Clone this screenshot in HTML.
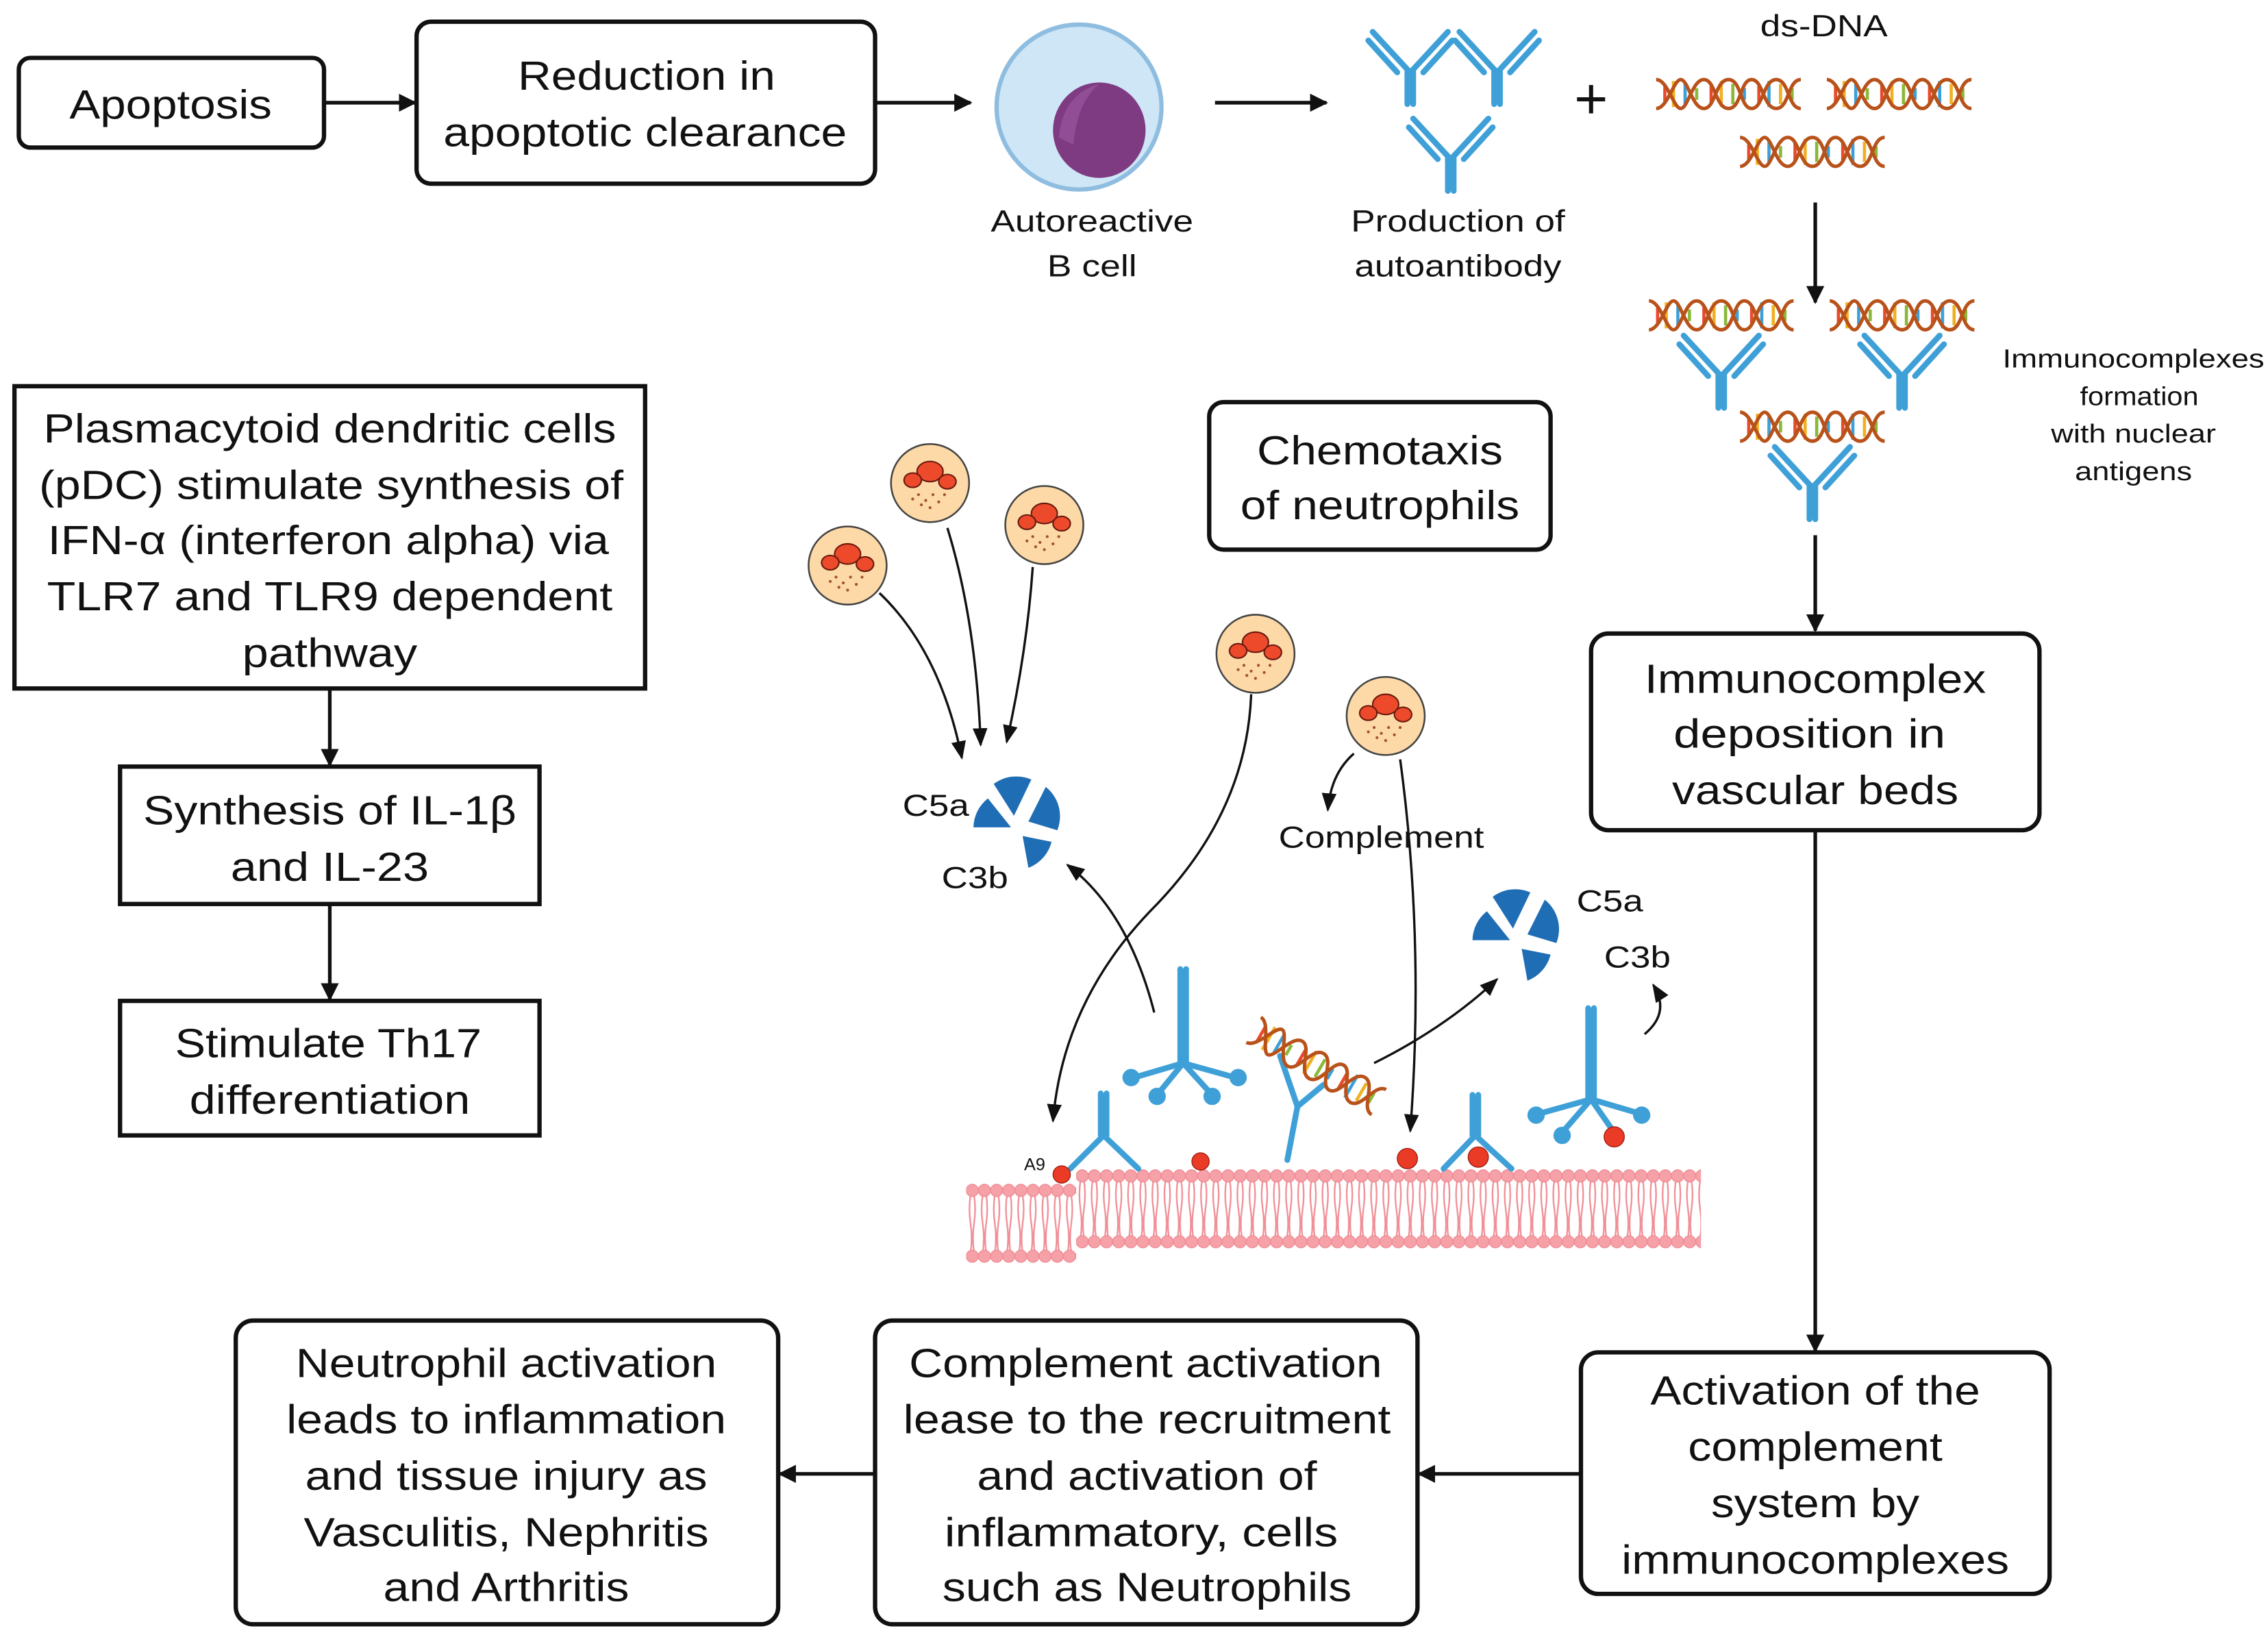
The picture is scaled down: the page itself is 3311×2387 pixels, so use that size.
<!DOCTYPE html>
<html><head><meta charset="utf-8"><style>
html,body{margin:0;padding:0;background:#fff;}
svg{display:block;}
svg text{font-family:"Liberation Sans",Arial,Helvetica,sans-serif;fill:#111;}
</style></head><body>
<svg width="3311" height="2387" viewBox="0 0 1568 1130.4" xmlns="http://www.w3.org/2000/svg" font-family="Liberation Sans, Arial, Helvetica, sans-serif">
<defs>
<marker id="ah" viewBox="0 0 10 10" refX="9" refY="5" markerWidth="5" markerHeight="5" orient="auto"><path d="M0,0L10,5L0,10z" fill="#111"/></marker>
<marker id="as" viewBox="0 0 10 10" refX="9" refY="5" markerWidth="8" markerHeight="8" orient="auto"><path d="M0,1L10,5L0,9z" fill="#111"/></marker>
<pattern id="lip" x="744" y="808" width="8.4" height="56" patternUnits="userSpaceOnUse">
<path d="M3,8 q-1.5,10 0,20 q1.5,10 0,20 M5.4,8 q1.5,10 0,20 q-1.5,10 0,20" stroke="#f08e96" stroke-width="1.1" fill="none"/>
<circle cx="4.2" cy="5" r="4.2" fill="#f6a0a8" stroke="#ee8890" stroke-width="0.6"/>
<circle cx="4.2" cy="50.5" r="4.2" fill="#f6a0a8" stroke="#ee8890" stroke-width="0.6"/>
</pattern>
<pattern id="lip2" x="668" y="818" width="8.4" height="56" patternUnits="userSpaceOnUse">
<path d="M3,8 q-1.5,10 0,20 q1.5,10 0,20 M5.4,8 q1.5,10 0,20 q-1.5,10 0,20" stroke="#f08e96" stroke-width="1.1" fill="none"/>
<circle cx="4.2" cy="5" r="4.2" fill="#f6a0a8" stroke="#ee8890" stroke-width="0.6"/>
<circle cx="4.2" cy="50.5" r="4.2" fill="#f6a0a8" stroke="#ee8890" stroke-width="0.6"/>
</pattern>
<symbol id="dna" viewBox="0 0 100 24" overflow="visible">
<g stroke-width="2.2">
<line x1="6" y1="6" x2="6" y2="18" stroke="#e84a2c"/><line x1="12" y1="3" x2="12" y2="21" stroke="#f0b020"/>
<line x1="20" y1="5" x2="20" y2="19" stroke="#3ba0d8"/><line x1="28" y1="8" x2="28" y2="16" stroke="#8ab838"/>
<line x1="38" y1="6" x2="38" y2="18" stroke="#e84a2c"/><line x1="45" y1="3" x2="45" y2="21" stroke="#f0b020"/>
<line x1="53" y1="5" x2="53" y2="19" stroke="#8ab838"/><line x1="61" y1="8" x2="61" y2="16" stroke="#3ba0d8"/>
<line x1="71" y1="6" x2="71" y2="18" stroke="#e84a2c"/><line x1="78" y1="3" x2="78" y2="21" stroke="#3ba0d8"/>
<line x1="86" y1="5" x2="86" y2="19" stroke="#f0b020"/><line x1="94" y1="8" x2="94" y2="16" stroke="#8ab838"/>
</g>
<path d="M0,2 C8,2 12,22 17,22 S25,2 33,2 S41,22 50,22 S58,2 66,2 S74,22 83,22 S91,2 100,2" fill="none" stroke="#b8521a" stroke-width="2.4"/>
<path d="M0,22 C8,22 12,2 17,2 S25,22 33,22 S41,2 50,2 S58,22 66,22 S74,2 83,2 S91,22 100,22" fill="none" stroke="#b8521a" stroke-width="2.4"/>
</symbol>
<symbol id="ab" viewBox="-30 -5 60 60" overflow="visible">
<path d="M-2,52 L-2,28 L-26,2 M2,52 L2,28 L26,2 M-9,30 L-29,8 M9,30 L29,8" stroke="#3fa0d8" stroke-width="4" fill="none" stroke-linecap="round"/>
</symbol>
<symbol id="neu" viewBox="-30 -30 60 60" overflow="visible">
<circle r="27" fill="#fcd9a6" stroke="#444" stroke-width="1.2"/>
<ellipse cx="0" cy="-8" rx="9" ry="7" fill="#ec4a2a" stroke="#6a1a10" stroke-width="1"/>
<ellipse cx="-12" cy="-2" rx="6" ry="5" fill="#ec4a2a" stroke="#6a1a10" stroke-width="1"/>
<ellipse cx="12" cy="-1" rx="6" ry="5" fill="#ec4a2a" stroke="#6a1a10" stroke-width="1"/>
<g fill="#a05030"><circle cx="-8" cy="8" r="1"/><circle cx="-3" cy="12" r="1"/><circle cx="2" cy="8" r="1"/><circle cx="6" cy="13" r="1"/><circle cx="-6" cy="15" r="1"/><circle cx="10" cy="8" r="1"/><circle cx="0" cy="17" r="1"/><circle cx="-12" cy="11" r="1"/></g>
</symbol>
<symbol id="pie" viewBox="-40 -40 80 80" overflow="visible">
<g fill="#1f6eb5">
<path d="M-4,-6 L-18,-28 A26,26 0 0 1 8,-31 Z"/>
<path d="M6,-2 L18,-26 A26,26 0 0 1 26,4 Z"/>
<path d="M-6,2 L-32,2 A26,26 0 0 1 -22,-18 Z"/>
<path d="M2,8 L22,12 A26,26 0 0 1 6,30 Z"/>
</g>
</symbol>
</defs>

<g fill="none" stroke="#111" stroke-width="3">
<rect x="13" y="40" width="211" height="62" rx="8"/>
<rect x="288" y="15" width="317" height="112" rx="10"/>
<rect x="10" y="267" width="436" height="209"/>
<rect x="83" y="530" width="290" height="95"/>
<rect x="83" y="692" width="290" height="93"/>
<rect x="836" y="278" width="236" height="102" rx="10"/>
<rect x="1100" y="438" width="310" height="136" rx="12"/>
<rect x="1093" y="935" width="324" height="167" rx="12"/>
<rect x="605" y="913" width="375" height="210" rx="12"/>
<rect x="163" y="913" width="375" height="210" rx="12"/>
</g>

<g stroke="#111" stroke-width="2.5" fill="none" marker-end="url(#ah)">
<line x1="224" y1="71" x2="287" y2="71"/>
<line x1="605" y1="71" x2="671" y2="71"/>
<line x1="840" y1="71" x2="917" y2="71"/>
<line x1="1255" y1="140" x2="1255" y2="209"/>
<line x1="1255" y1="370" x2="1255" y2="436"/>
<line x1="1255" y1="574" x2="1255" y2="934"/>
<line x1="1093" y1="1019" x2="981" y2="1019"/>
<line x1="605" y1="1019" x2="539" y2="1019"/>
<line x1="228" y1="476" x2="228" y2="529"/>
<line x1="228" y1="625" x2="228" y2="691"/>
</g>

<g font-size="28" text-anchor="middle" lengthAdjust="spacingAndGlyphs">
<text x="118" y="82" textLength="140" lengthAdjust="spacingAndGlyphs">Apoptosis</text>
<text x="447" y="62" textLength="178" lengthAdjust="spacingAndGlyphs">Reduction in</text>
<text x="446" y="101" textLength="279" lengthAdjust="spacingAndGlyphs">apoptotic clearance</text>
<text x="228" y="306" textLength="396" lengthAdjust="spacingAndGlyphs">Plasmacytoid dendritic cells</text>
<text x="229" y="345" textLength="404" lengthAdjust="spacingAndGlyphs">(pDC) stimulate synthesis of</text>
<text x="227" y="383" textLength="388" lengthAdjust="spacingAndGlyphs">IFN-α (interferon alpha) via</text>
<text x="228" y="422" textLength="391" lengthAdjust="spacingAndGlyphs">TLR7 and TLR9 dependent</text>
<text x="228" y="461" textLength="121" lengthAdjust="spacingAndGlyphs">pathway</text>
<text x="228" y="570" textLength="258" lengthAdjust="spacingAndGlyphs">Synthesis of IL-1β</text>
<text x="228" y="609" textLength="137" lengthAdjust="spacingAndGlyphs">and IL-23</text>
<text x="227" y="731" textLength="212" lengthAdjust="spacingAndGlyphs">Stimulate Th17</text>
<text x="228" y="770" textLength="194" lengthAdjust="spacingAndGlyphs">differentiation</text>
<text x="954" y="321" textLength="170" lengthAdjust="spacingAndGlyphs">Chemotaxis</text>
<text x="954" y="359" textLength="193" lengthAdjust="spacingAndGlyphs">of neutrophils</text>
<text x="1255" y="479" textLength="236" lengthAdjust="spacingAndGlyphs">Immunocomplex</text>
<text x="1251" y="517" textLength="188" lengthAdjust="spacingAndGlyphs">deposition in</text>
<text x="1255" y="556" textLength="198" lengthAdjust="spacingAndGlyphs">vascular beds</text>
<text x="1255" y="971" textLength="228" lengthAdjust="spacingAndGlyphs">Activation of the</text>
<text x="1255" y="1010" textLength="176" lengthAdjust="spacingAndGlyphs">complement</text>
<text x="1255" y="1049" textLength="144" lengthAdjust="spacingAndGlyphs">system by</text>
<text x="1255" y="1088" textLength="268" lengthAdjust="spacingAndGlyphs">immunocomplexes</text>
<text x="792" y="952" textLength="327" lengthAdjust="spacingAndGlyphs">Complement activation</text>
<text x="793" y="991" textLength="337" lengthAdjust="spacingAndGlyphs">lease to the recruitment</text>
<text x="793" y="1030" textLength="235" lengthAdjust="spacingAndGlyphs">and activation of</text>
<text x="789" y="1069" textLength="272" lengthAdjust="spacingAndGlyphs">inflammatory, cells</text>
<text x="793" y="1107" textLength="283" lengthAdjust="spacingAndGlyphs">such as Neutrophils</text>
<text x="350" y="952" textLength="291" lengthAdjust="spacingAndGlyphs">Neutrophil activation</text>
<text x="350" y="991" textLength="304" lengthAdjust="spacingAndGlyphs">leads to inflammation</text>
<text x="350" y="1030" textLength="278" lengthAdjust="spacingAndGlyphs">and tissue injury as</text>
<text x="350" y="1069" textLength="280" lengthAdjust="spacingAndGlyphs">Vasculitis, Nephritis</text>
<text x="350" y="1107" textLength="170" lengthAdjust="spacingAndGlyphs">and Arthritis</text>
</g>
<g font-size="21" text-anchor="middle">
<text x="755" y="160" textLength="140" lengthAdjust="spacingAndGlyphs">Autoreactive</text>
<text x="755" y="191" textLength="62" lengthAdjust="spacingAndGlyphs">B cell</text>
<text x="1008" y="160" textLength="148" lengthAdjust="spacingAndGlyphs">Production of</text>
<text x="1008" y="191" textLength="143" lengthAdjust="spacingAndGlyphs">autoantibody</text>
<text x="1261" y="25" textLength="88" lengthAdjust="spacingAndGlyphs">ds-DNA</text>
<text x="955" y="586" textLength="142" lengthAdjust="spacingAndGlyphs">Complement</text>
<text x="647" y="564" textLength="46" lengthAdjust="spacingAndGlyphs">C5a</text>
<text x="674" y="614" textLength="46" lengthAdjust="spacingAndGlyphs">C3b</text>
<text x="1113" y="630" textLength="46" lengthAdjust="spacingAndGlyphs">C5a</text>
<text x="1132" y="669" textLength="46" lengthAdjust="spacingAndGlyphs">C3b</text>
</g>
<text x="1100" y="82" font-size="40" text-anchor="middle">+</text>
<g font-size="18" text-anchor="middle">
<text x="1475" y="254" textLength="181" lengthAdjust="spacingAndGlyphs">Immunocomplexes</text>
<text x="1479" y="280" textLength="82" lengthAdjust="spacingAndGlyphs">formation</text>
<text x="1475" y="306" textLength="114" lengthAdjust="spacingAndGlyphs">with nuclear</text>
<text x="1475" y="332" textLength="81" lengthAdjust="spacingAndGlyphs">antigens</text>
</g>
<text x="708" y="809" font-size="12">A9</text>

<!-- B cell -->
<circle cx="746" cy="74" r="57" fill="#cfe6f7" stroke="#8fbde0" stroke-width="3"/>
<ellipse cx="760" cy="90" rx="32" ry="33" fill="#7e3b82"/>
<path d="M732,95 Q735,65 760,58 Q745,70 742,100 Z" fill="#96529a" opacity="0.8"/>

<!-- antibodies & DNA top -->
<use href="#ab" x="945" y="15" width="60" height="60"/>
<use href="#ab" x="1005" y="15" width="60" height="60"/>
<use href="#ab" x="973" y="75" width="60" height="60"/>
<use href="#dna" x="1145" y="53" width="100" height="24"/>
<use href="#dna" x="1263" y="53" width="100" height="24"/>
<use href="#dna" x="1203" y="93" width="100" height="24"/>

<use href="#dna" x="1140" y="206" width="100" height="24"/>
<use href="#dna" x="1265" y="206" width="100" height="24"/>
<use href="#dna" x="1203" y="283" width="100" height="24"/>
<use href="#ab" x="1160" y="225" width="60" height="60"/>
<use href="#ab" x="1285" y="225" width="60" height="60"/>
<use href="#ab" x="1223" y="302" width="60" height="60"/>

<!-- neutrophils -->
<use href="#neu" x="613" y="304" width="60" height="60"/>
<use href="#neu" x="556" y="361" width="60" height="60"/>
<use href="#neu" x="692" y="333" width="60" height="60"/>
<use href="#neu" x="838" y="422" width="60" height="60"/>
<use href="#neu" x="928" y="465" width="60" height="60"/>

<use href="#pie" x="665" y="530" width="80" height="80"/>
<use href="#pie" x="1010" y="608" width="80" height="80"/>

<!-- curved arrows -->
<g stroke="#111" stroke-width="1.6" fill="none" marker-end="url(#as)">
<path d="M608,410 Q650,450 665,524"/>
<path d="M655,365 Q675,430 678,515"/>
<path d="M714,392 Q710,450 696,513"/>
<path d="M865,480 Q862,560 800,625 Q735,690 728,775"/>
<path d="M798,700 Q780,630 738,598"/>
<path d="M936,521 Q920,535 918,560"/>
<path d="M968,525 Q985,650 975,782"/>
<path d="M950,735 Q1000,710 1035,677"/>
<path d="M1137,715 Q1155,700 1143,681"/>
</g>

<!-- membrane -->
<rect x="668" y="818" width="76" height="56" fill="url(#lip2)"/>
<rect x="744" y="808" width="432" height="56" fill="url(#lip)"/>

<!-- membrane antibodies -->
<g stroke="#3fa0d8" stroke-width="4" fill="none" stroke-linecap="round">
<path d="M816,670 V735 M820,670 V735 M818,735 L784,745 M818,735 L800,757 M818,735 L838,757 M818,735 L854,745"/>
<path d="M1098,697 V760 M1102,697 V760 M1100,760 L1064,770 M1100,760 L1080,783 M1100,760 L1116,783 M1100,760 L1134,770"/>
<path d="M761,756 V785 M765,756 V785 M763,785 L740,808 M763,785 L787,808"/>
<path d="M1018,757 V785 M1022,757 V785 M1020,785 L998,808 M1020,785 L1045,808"/>
<path d="M890,802 L897,765 L885,730 M897,765 L915,750"/>
</g>
<g fill="#3fa0d8">
<circle cx="782" cy="745" r="6"/><circle cx="800" cy="758" r="6"/><circle cx="838" cy="758" r="6"/><circle cx="856" cy="745" r="6"/>
<circle cx="1062" cy="771" r="6"/><circle cx="1080" cy="785" r="6"/><circle cx="1135" cy="771" r="6"/>
</g>
<g fill="#ea3b26" stroke="#9a1a10" stroke-width="0.6">
<circle cx="1116" cy="786" r="7"/>
<circle cx="734" cy="812" r="6"/><circle cx="830" cy="803" r="6"/><circle cx="973" cy="801" r="7"/><circle cx="1022" cy="800" r="7"/>
</g>
<use href="#dna" x="860" y="725" width="100" height="24" transform="rotate(30 910 737)"/>
</svg>
</body></html>
